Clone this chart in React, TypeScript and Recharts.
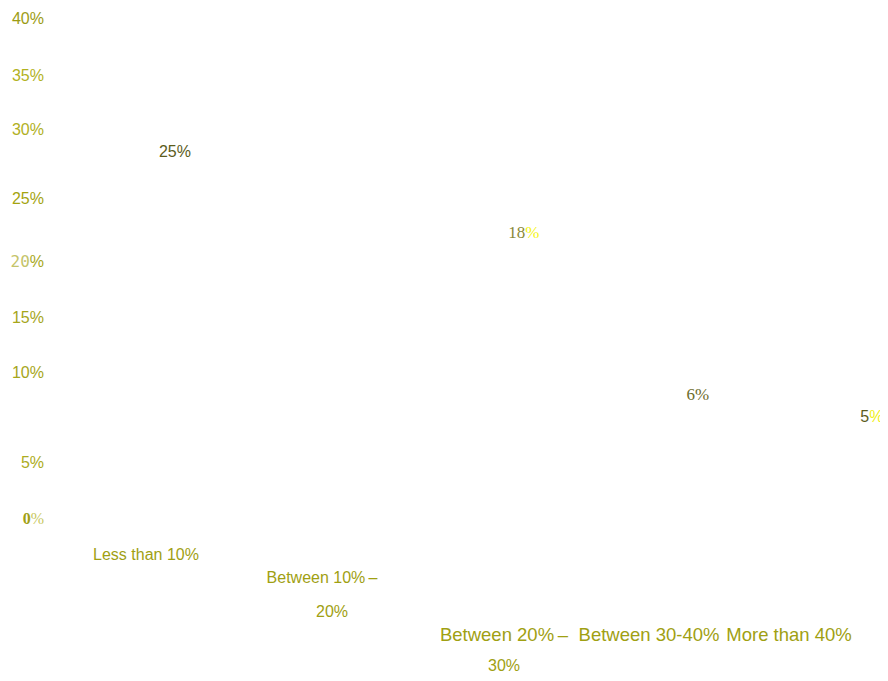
import React from "react";
import { BarChart, Bar, XAxis, YAxis, LabelList } from "recharts";

// shares of respondents per range
const categories = ["Less than 10%", "Between 10%-20%", "Between 20%-30%", "Between 30-40%", "More than 40%"];
const shares: (number | null)[] = [25, null, 18, 6, 5];
const yTicks = [0, 5, 10, 15, 20, 25, 30, 35, 40];

const data = categories.map((name, i) => ({ name, share: shares[i] }));

const SANS = "'Liberation Sans', Arial, sans-serif";
const SERIF = "'Liberation Serif', 'Times New Roman', serif";
const MONO = "'DejaVu Sans Mono', monospace";

// per-tick look of the y labels (the picture is deliberately uneven)
const yStyle: Record<number, { dy: number; parts: { t: string; fill: string; font?: string; weight?: number }[] }> = {
  40: { dy: 0, parts: [{ t: "40%", fill: "#9c9c14" }] },
  35: { dy: -6, parts: [{ t: "35%", fill: "#b2b21e" }] },
  30: { dy: -14, parts: [{ t: "30%", fill: "#b0b024" }] },
  25: { dy: -8, parts: [{ t: "25%", fill: "#a4a410" }] },
  20: { dy: -7, parts: [{ t: "20", fill: "#c4c46a", font: MONO }, { t: "%", fill: "#a8a81c" }] },
  15: { dy: -14, parts: [{ t: "15%", fill: "#a6a61a" }] },
  10: { dy: -21, parts: [{ t: "10%", fill: "#a6a61a" }] },
  5: { dy: 6, parts: [{ t: "5%", fill: "#acac22" }] },
  0: { dy: 0, parts: [{ t: "0", fill: "#a0a014", font: SERIF, weight: 700 }, { t: "%", fill: "#c8c860", font: SERIF }] },
};

function YTick({ x, y, payload }: any) {
  const s = yStyle[payload?.value];
  if (!s) return null;
  return (
    <text x={x - 8} y={y + s.dy} textAnchor="end" dominantBaseline="central" fontSize={16} fontFamily={SANS}>
      {s.parts.map((p, i) => (
        <tspan key={i} fill={p.fill} fontFamily={p.font || SANS} fontWeight={p.weight || 400}>
          {p.t}
        </tspan>
      ))}
    </text>
  );
}

const xStyle = [
  { lines: [{ t: "Less than 10%", dx: 4, dy: 28, size: 16 }] },
  { lines: [{ t: "Between 10%\u2009\u2013", dx: 16, dy: 51, size: 16 }, { t: "20%", dx: 26, dy: 85, size: 16 }] },
  { lines: [{ t: "Between 20%\u2009\u2013", dx: 34, dy: 108, size: 18.5 }, { t: "30%", dx: 34, dy: 139, size: 16 }] },
  { lines: [{ t: "Between 30-40%", dx: 15, dy: 108, size: 18.5 }] },
  { lines: [{ t: "More than 40%", dx: -9, dy: 108, size: 18.5 }] },
];

function XTick({ x, y, payload }: any) {
  const s = xStyle[categories.indexOf(payload?.value)];
  if (!s) return null;
  return (
    <g>
      {s.lines.map((l, i) => (
        <text key={i} x={x + l.dx} y={y + l.dy} textAnchor="middle" dominantBaseline="central"
          fontSize={l.size} fontFamily={SANS} fill="#a0a012">
          {l.t}
        </text>
      ))}
    </g>
  );
}

const valueStyle: Record<number, { dx: number; dy: number; size: number; font: string; num: string; pct: string }> = {
  0: { dx: 33, dy: -55, size: 16, font: SANS, num: "#5c5c1c", pct: "#5c5c1c" },
  2: { dx: 54, dy: -61, size: 17, font: SERIF, num: "#8a8a3a", pct: "#f4f414" },
  3: { dx: 64, dy: -49, size: 17, font: SERIF, num: "#6c6c2a", pct: "#6c6c2a" },
  4: { dx: 74, dy: -40, size: 16, font: SANS, num: "#5c5c1c", pct: "#f0f020" },
};

function ValueLabel({ x, y, width, value }: any) {
  if (value == null) return null;
  const s = valueStyle[shares.indexOf(Number(value))];
  if (!s) return null;
  return (
    <text x={Number(x) + Number(width) / 2 + s.dx} y={Number(y) + s.dy} textAnchor="middle" dominantBaseline="central"
      fontSize={s.size} fontFamily={s.font}>
      <tspan fill={s.num}>{value}</tspan>
      <tspan fill={s.pct}>%</tspan>
    </text>
  );
}

export default function App() {
  return (
    <BarChart width={880} height={665} data={data} margin={{ top: 10, right: 8, left: 0, bottom: 5 }}>
      <XAxis dataKey="name" axisLine={false} tickLine={false} height={150} interval={0} tick={<XTick />} />
      <YAxis domain={[0, 40]} ticks={yTicks} width={52} axisLine={false} tickLine={false} tick={<YTick />} />
      <Bar dataKey="share" fill="transparent" isAnimationActive={false}>
        <LabelList dataKey="share" content={<ValueLabel />} />
      </Bar>
    </BarChart>
  );
}
